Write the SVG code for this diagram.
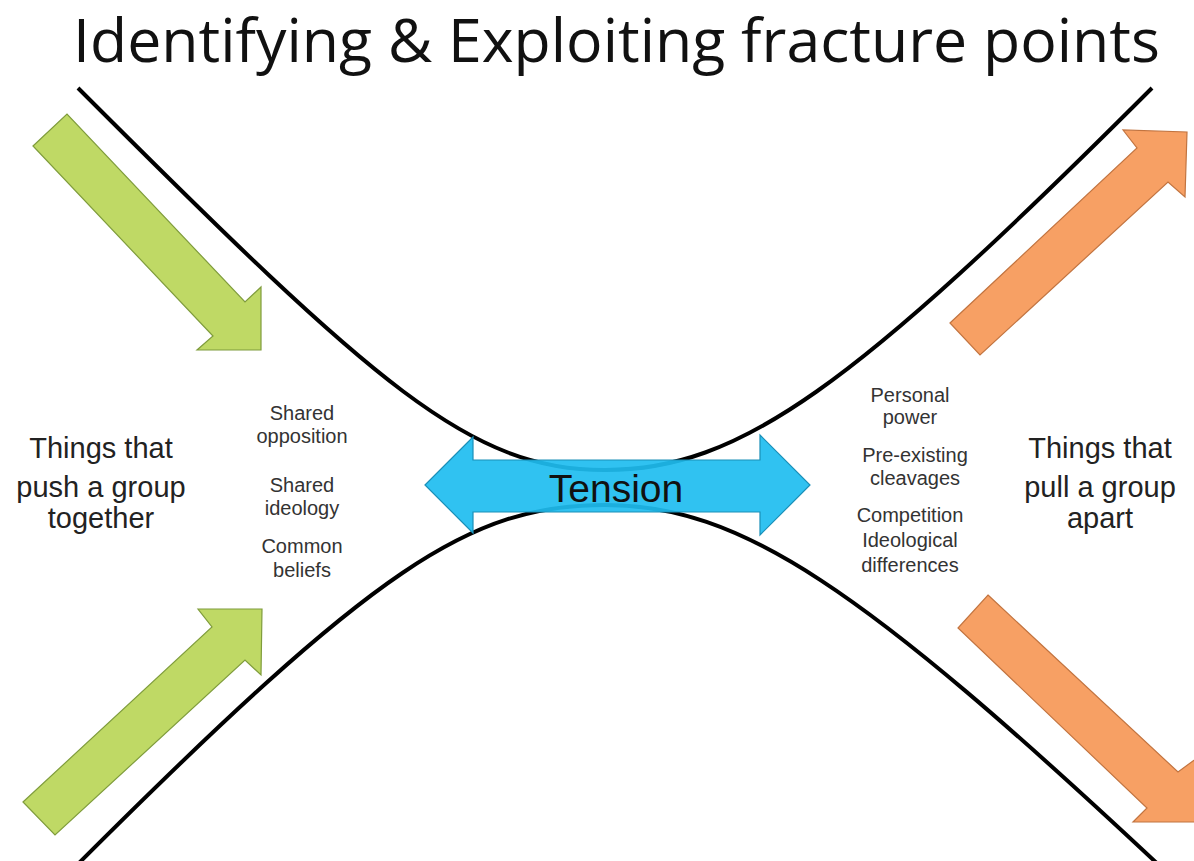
<svg xmlns="http://www.w3.org/2000/svg" width="1194" height="861" viewBox="0 0 1194 861">
<style>
.title{font-family:"Open Sans","Liberation Sans",sans-serif;font-size:60px;fill:#111}
.big{font-family:"Liberation Sans",Arial,sans-serif;font-size:29px;fill:#222;text-anchor:middle}
.small{font-family:"Liberation Sans",Arial,sans-serif;font-size:20px;fill:#333;text-anchor:middle}
.curve{fill:none;stroke:#000;stroke-width:4}
.green{fill:#bfd965;stroke:#7f9c3c;stroke-width:1.2}
.orange{fill:#f7a064;stroke:#c27440;stroke-width:1.2}
.blue{fill:#1ebdf0;fill-opacity:0.92;stroke:#1a8fb8;stroke-width:1.2}
</style>
<rect width="1194" height="861" fill="#fff"/>
<text id="title" class="title" x="73" y="62" textLength="1087" lengthAdjust="spacingAndGlyphs">Identifying &amp; Exploiting fracture points</text>
<g id="connectors">
<path class="curve" d="M78,88 C378,388 470,470 605,470 C740,470 852,388 1152,88"/>
<path class="curve" d="M76,866 C376,566 470,505 605,505 C740,505 860,585 1162,868"/>
</g>
<g id="push-arrow-top"><polygon class="green" points="33,146 67,114 245,302 261,287 261,350 197,350 213,336"/></g>
<g id="push-arrow-bottom"><polygon class="green" points="23,802 212,627 198,609 262,609 261,675 245,660 55,835"/></g>
<g id="pull-arrow-top"><polygon class="orange" points="950,323 1137,148 1123,130 1187,132 1185,197 1168,182 980,355"/></g>
<g id="pull-arrow-bottom"><polygon class="orange" points="988,595 1178,772 1197,758 1197,822 1133,822 1147,808 958,628"/></g>
<g id="tension">
<polygon class="blue" points="425,485 473,437 473,460 760,460 760,435 810,485 760,535 760,512 473,512 473,533"/>
<text x="616" y="502" font-family="Liberation Sans,Arial,sans-serif" font-size="39" fill="#111" text-anchor="middle">Tension</text>
</g>
<g id="push-label">
<text class="big" x="101" y="458">Things that</text>
<text class="big" x="101" y="497">push a group</text>
<text class="big" x="101" y="528">together</text>
</g>
<g id="pull-label">
<text class="big" x="1100" y="458">Things that</text>
<text class="big" x="1100" y="497">pull a group</text>
<text class="big" x="1100" y="528">apart</text>
</g>
<g id="push-factors">
<text class="small" x="302" y="420">Shared</text>
<text class="small" x="302" y="443">opposition</text>
<text class="small" x="302" y="492">Shared</text>
<text class="small" x="302" y="515">ideology</text>
<text class="small" x="302" y="553">Common</text>
<text class="small" x="302" y="577">beliefs</text>
</g>
<g id="pull-factors">
<text class="small" x="910" y="402">Personal</text>
<text class="small" x="910" y="424">power</text>
<text class="small" x="915" y="462">Pre-existing</text>
<text class="small" x="915" y="485">cleavages</text>
<text class="small" x="910" y="522">Competition</text>
<text class="small" x="910" y="547">Ideological</text>
<text class="small" x="910" y="572">differences</text>
</g>
</svg>
